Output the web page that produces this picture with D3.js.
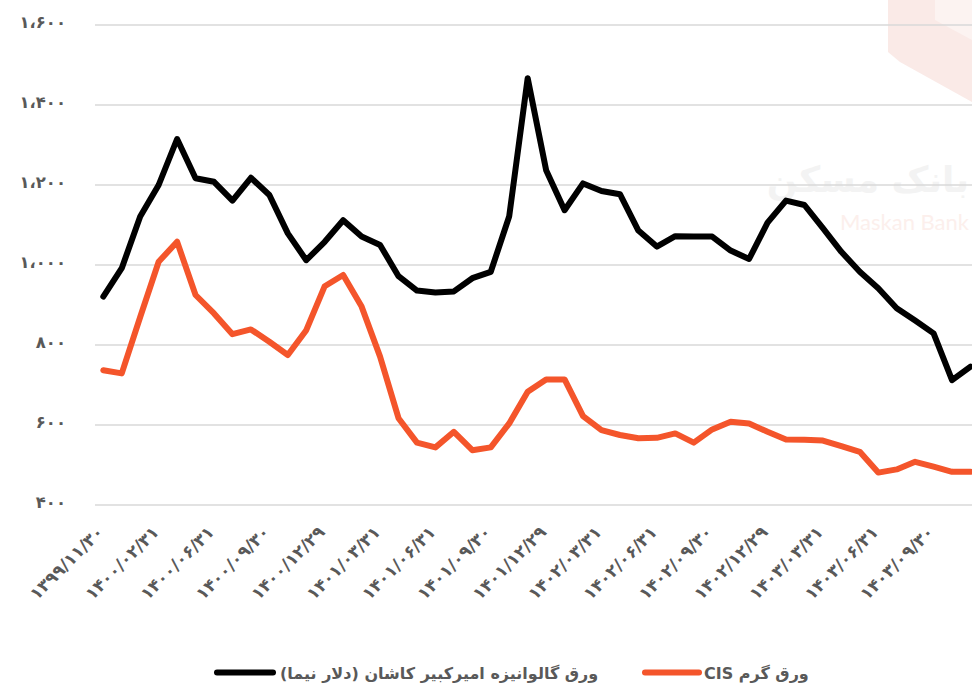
<!DOCTYPE html>
<html>
<head>
<meta charset="utf-8">
<script src="https://cdn.jsdelivr.net/npm/d3@7/dist/d3.min.js"></script>
<style>
html,body{margin:0;padding:0;background:#fff;overflow:hidden;}
svg{display:block;font-family:"DejaVu Sans",sans-serif;}
</style>
</head>
<body>
<svg id="chart" width="972" height="688"></svg>
<script>
const xLabels = ["۱۳۹۹/۱۱/۳۰","۱۴۰۰/۰۲/۳۱","۱۴۰۰/۰۶/۳۱","۱۴۰۰/۰۹/۳۰","۱۴۰۰/۱۲/۲۹","۱۴۰۱/۰۳/۳۱","۱۴۰۱/۰۶/۳۱","۱۴۰۱/۰۹/۳۰","۱۴۰۱/۱۲/۲۹","۱۴۰۲/۰۳/۳۱","۱۴۰۲/۰۶/۳۱","۱۴۰۲/۰۹/۳۰","۱۴۰۲/۱۲/۲۹","۱۴۰۳/۰۳/۳۱","۱۴۰۳/۰۶/۳۱","۱۴۰۳/۰۹/۳۰"];
const yTicks = [400, 600, 800, 1000, 1200, 1400, 1600];
const yTickLabels = ["۴۰۰","۶۰۰","۸۰۰","۱،۰۰۰","۱،۲۰۰","۱،۴۰۰","۱،۶۰۰"];
const galvanized = [921, 992, 1121, 1200, 1315, 1217, 1208, 1161, 1218, 1175, 1079, 1012, 1058, 1112, 1071, 1050, 972, 936, 931, 934, 967, 983, 1122, 1467, 1237, 1137, 1204, 1185, 1177, 1086, 1046, 1072, 1071, 1071, 1036, 1015, 1106, 1161, 1150, 1092, 1033, 983, 942, 892, 861, 829, 712, 746];
const hotRolled = [737, 729, 870, 1008, 1058, 925, 879, 827, 839, 808, 775, 837, 947, 975, 896, 771, 617, 556, 544, 583, 537, 544, 604, 683, 714, 714, 622, 587, 575, 567, 568, 579, 556, 589, 608, 604, 583, 564, 563, 561, 547, 533, 481, 489, 508, 496, 483, 483];
const seriesNames = ["ورق گالوانیزه امیرکبیر کاشان (دلار نیما)", "ورق گرم CIS"];
const seriesColors = ["#000000", "#f4552b"];
const labelStep = 3;

const svg = d3.select("#chart");
const x = d3.scaleLinear().domain([0, galvanized.length - 1]).range([103.3, 970.5]);
const y = d3.scaleLinear().domain([400, 1600]).range([505, 25]);

// watermark
const wm = svg.append("g");
wm.append("path")
  .attr("d", "M888,0 L972,0 L972,102 L900,62 L888,52 Z")
  .attr("fill", "#faeae7");
wm.append("path")
  .attr("d", "M935,0 L972,0 L972,40 L935,20 Z")
  .attr("fill", "#fcf3f1");
wm.append("text").attr("x", 969).attr("y", 192)
  .attr("text-anchor", "end")
  .attr("font-size", 36).attr("font-weight", "bold").attr("fill", "#f3f3f3")
  .text("بانک مسکن");
wm.append("text").attr("x", 969).attr("y", 230)
  .attr("text-anchor", "end")
  .attr("font-family", "Lato, sans-serif")
  .attr("font-size", 22).attr("fill", "#fcefec")
  .text("Maskan Bank");

// gridlines
svg.append("g").selectAll("line").data(yTicks).join("line")
  .attr("x1", 95).attr("x2", 972)
  .attr("y1", d => y(d)).attr("y2", d => y(d))
  .attr("stroke", "#d9d9d9").attr("stroke-width", 1.5);

// y labels
svg.append("g").selectAll("text").data(yTicks).join("text")
  .attr("x", 66).attr("y", d => y(d) - 3)
  .attr("dy", "0.35em")
  .attr("text-anchor", "end")
  .attr("font-size", 16.5).attr("font-weight", "bold").attr("fill", "#595959")
  .text((d, i) => yTickLabels[i]);

// x labels
svg.append("g").selectAll("text").data(xLabels).join("text")
  .attr("transform", (d, i) => `translate(${x(i * labelStep) - 3},${529}) rotate(-45)`)
  .attr("text-anchor", "end")
  .attr("dy", "0.35em")
  .attr("font-size", 17).attr("font-weight", "bold").attr("fill", "#595959")
  .text(d => d);

// lines
const line = d3.line().x((d, i) => x(i)).y(d => y(d));
[hotRolled, galvanized].forEach((s, k) => {
  svg.append("path").datum(s)
    .attr("d", line)
    .attr("fill", "none")
    .attr("stroke", k === 0 ? seriesColors[1] : seriesColors[0])
    .attr("stroke-width", 6)
    .attr("stroke-linejoin", "round")
    .attr("stroke-linecap", "round");
});

// legend
const legend = [
  {name: seriesNames[0], color: seriesColors[0], x1: 217, x2: 273, tx: 280},
  {name: seriesNames[1], color: seriesColors[1], x1: 645, x2: 699, tx: 704}
];
const lg = svg.append("g");
legend.forEach(l => {
  lg.append("line").attr("x1", l.x1).attr("x2", l.x2).attr("y1", 672.5).attr("y2", 672.5)
    .attr("stroke", l.color).attr("stroke-width", 6).attr("stroke-linecap", "round");
  lg.append("text").attr("x", l.tx).attr("y", 673)
    .attr("dy", "0.35em")
    .attr("direction", "rtl")
    .attr("text-anchor", "end")
    .attr("font-size", 16).attr("font-weight", "bold").attr("fill", "#595959")
    .text(l.name);
});
</script>
</body>
</html>
